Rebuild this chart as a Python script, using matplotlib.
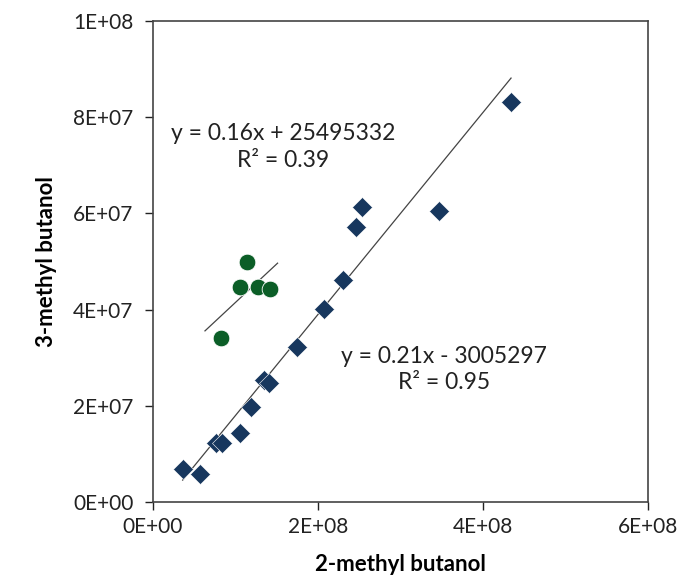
import numpy as np
import matplotlib.pyplot as plt
from matplotlib.ticker import FixedLocator

plt.rcParams['font.family'] = ['Lato', 'DejaVu Sans']

# grupo 1 (rombos azules)
x_rombos = [0.36e8, 0.57e8, 0.76e8, 0.84e8, 1.05e8, 1.19e8, 1.34e8, 1.41e8,
            1.75e8, 2.07e8, 2.30e8, 2.46e8, 2.53e8, 3.47e8, 4.34e8]
y_rombos = [0.68e7, 0.58e7, 1.22e7, 1.22e7, 1.43e7, 1.97e7, 2.53e7, 2.47e7,
            3.22e7, 4.02e7, 4.61e7, 5.71e7, 6.14e7, 6.06e7, 8.32e7]

# grupo 2 (círculos verdes)
x_circulos = [0.83e8, 1.05e8, 1.14e8, 1.27e8, 1.42e8]
y_circulos = [3.41e7, 4.47e7, 4.99e7, 4.47e7, 4.43e7]

# líneas de tendencia (coeficientes del gráfico)
pend_rombos, ord_rombos = 0.21, -3005297
pend_circulos, ord_circulos = 0.16, 25495332
rango_circulos = [0.63e8, 1.51e8]

xticks = [0, 2e8, 4e8, 6e8]
xtick_labels = ['0E+00', '2E+08', '4E+08', '6E+08']
yticks = [0, 2e7, 4e7, 6e7, 8e7, 1e8]
ytick_labels = ['0E+00', '2E+07', '4E+07', '6E+07', '8E+07', '1E+08']

fig = plt.figure(figsize=(6.82, 5.81), dpi=100)
ax = fig.add_axes([153 / 682, 79 / 581, 495 / 682, 481 / 581])

xr = np.array([min(x_rombos), max(x_rombos)])
ax.plot(xr, pend_rombos * xr + ord_rombos, color='#444444', lw=0.9, zorder=2)
xc = np.array(rango_circulos)
ax.plot(xc, pend_circulos * xc + ord_circulos, color='#444444', lw=0.9, zorder=2)

ax.plot(x_rombos, y_rombos, linestyle='none', marker='D', markersize=10.5,
        color='#17375E', markeredgecolor='white', markeredgewidth=0.4, zorder=3)
ax.plot(x_circulos, y_circulos, linestyle='none', marker='o', markersize=12,
        color='#0B5E27', markeredgecolor='white', markeredgewidth=0.6, zorder=3)

ax.text(1.58e8, 7.38e7, 'y = 0.16x + 25495332\nR² = 0.39', ha='center', va='center',
        fontsize=16.5, linespacing=1.3, color='#222222')
ax.text(3.53e8, 2.76e7, 'y = 0.21x - 3005297\nR² = 0.95', ha='center', va='center',
        fontsize=16.5, linespacing=1.3, color='#222222')

ax.set_xlim(0, 6e8)
ax.set_ylim(0, 1e8)
ax.xaxis.set_major_locator(FixedLocator(xticks))
ax.set_xticklabels(xtick_labels)
ax.yaxis.set_major_locator(FixedLocator(yticks))
ax.set_yticklabels(ytick_labels)
ax.tick_params(direction='out', length=6, width=1, labelsize=15, colors='#222222')
ax.tick_params(axis='y', pad=8)
ax.tick_params(axis='x', pad=5)
for s in ax.spines.values():
    s.set_color('#444444')
    s.set_linewidth(1.2)

ax.set_xlabel('2-methyl butanol', fontsize=16, fontweight='bold', labelpad=12)
ax.set_ylabel('3-methyl butanol', fontsize=16, fontweight='bold', labelpad=12)

fig.savefig('out.png', dpi=100)
